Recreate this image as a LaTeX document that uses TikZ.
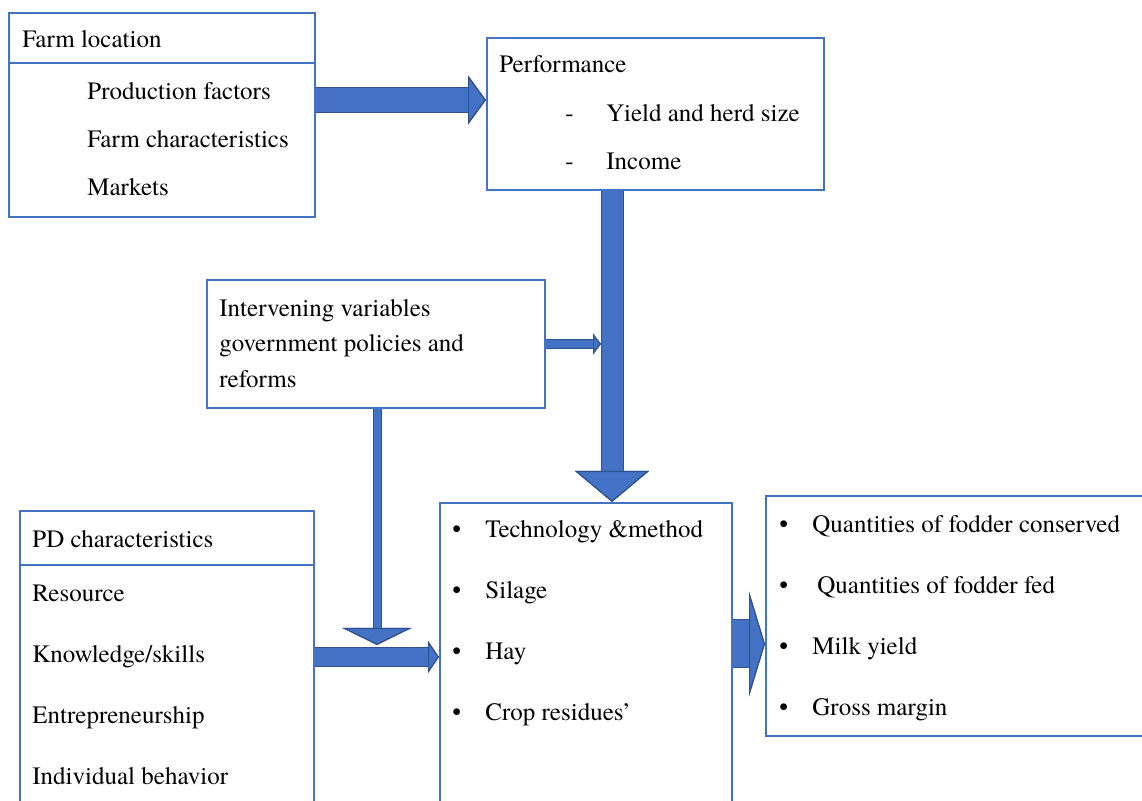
\documentclass[tikz,border=0pt]{standalone}
\usepackage{fontspec}
\setmainfont{texgyretermes}[Extension=.otf, UprightFont=*-regular, BoldFont=*-bold, ItalicFont=*-italic, BoldItalicFont=*-bolditalic]
\usetikzlibrary{arrows.meta}
\definecolor{BoxBlue}{HTML}{4472C4}
\definecolor{ArrowBlue}{HTML}{4472C4}
\definecolor{ArrowDark}{HTML}{2F528F}

\begin{document}
\begin{tikzpicture}[x=0.5pt,y=-0.5pt,
  box/.style={draw=BoxBlue, line width=1pt, anchor=north west, inner sep=0pt},
  lbl/.style={anchor=base west, inner sep=0pt, font=\fontsize{12.5}{15}\selectfont},
  flow/.style n args={4}{
    draw=ArrowBlue, line width=#1,
    preaction={draw=ArrowDark, line width=#2},
    -{Triangle[width=#3, length=#4, color=ArrowDark, fill=ArrowBlue, line width=0.6pt]}
  }]
  \useasboundingbox (0,0) rectangle (1142,801);
  \clip (0,0) rectangle (1142,801);

  % boxes
  \node[box, minimum width=153pt, minimum height=25pt] (farmhead) at (8,12) {};
  \node[box, minimum width=153pt, minimum height=77pt] (farmbody) at (8,62) {};
  \node[box, minimum width=168.5pt, minimum height=76pt] (perf) at (486,37) {};
  \node[box, minimum width=169pt, minimum height=64pt] (interv) at (206,279) {};
  \node[box, minimum width=147pt, minimum height=27pt] (pdhead) at (19,510) {};
  \node[box, minimum width=147pt, minimum height=130pt] (pdbody) at (19,564) {};
  \node[box, minimum width=146pt, minimum height=160pt] (method) at (439,502) {};
  \node[box, minimum width=200pt, minimum height=120pt] (outcome) at (765,495) {};

  % farm location
  \node[lbl] (farmtitle) at (22,48) {Farm location};
  \foreach \txt [count=\i] in {Production factors, Farm characteristics, Markets}
    \node[lbl] (farmitem\i) at (87,52+48*\i) {\txt};

  % performance
  \node[lbl] (perftitle) at (499,73) {Performance};
  \foreach \txt [count=\i] in {Yield and herd size, Income}
    \node[lbl] (perfitem\i) at (565,74+48*\i) {\makebox[20.5pt][l]{-}\txt};

  % intervening variables
  \foreach \txt [count=\i] in {Intervening variables, government policies and, reforms}
    \node[lbl] (intervline\i) at (219,281+35.5*\i) {\txt};

  % PD characteristics
  \node[lbl] (pdtitle) at (32,548) {PD characteristics};
  \foreach \txt [count=\i] in {Resource, Knowledge/skills, Entrepreneurship, Individual behavior}
    \node[lbl] (pditem\i) at (32,541+61*\i) {\txt};

  % technology and method
  \foreach \txt [count=\i] in {Technology \&method, Silage, Hay, Crop residues’}
    \node[lbl] (methoditem\i) at (452,477+61*\i) {\makebox[16.5pt][l]{\textbullet}\txt};

  % outcomes
  \foreach \txt [count=\i] in {Quantities of fodder conserved, {\hspace{2.5pt}Quantities of fodder fed}, Milk yield, Gross margin}
    \node[lbl] (outitem\i) at (779,472+61*\i) {\makebox[16.5pt][l]{\textbullet}\txt};

  % arrows
  \coordinate (spine) at (612,0);
  \coordinate (spineedge) at (601,0);
  \coordinate (toprow) at (0,100);
  \coordinate (pdrow) at (0,657);
  \coordinate (outrow) at (0,644);
  \coordinate (drop) at (377,645);

  \draw[flow={12pt}{13pt}{24.5pt}{9pt}] (farmbody.east |- toprow) -- (perf.west |- toprow);
  \draw[flow={10.5pt}{11.5pt}{37pt}{15.5pt}] (spine |- perf.south) -- (spine |- method.north);
  \draw[flow={4pt}{5pt}{10.5pt}{4pt}] (interv.east) -- (spineedge |- interv.east);
  \draw[flow={3.5pt}{4.5pt}{34.5pt}{8.5pt}] (interv.south -| drop) -- (drop);
  \draw[flow={9pt}{10pt}{16pt}{5.5pt}] (pdbody.east |- pdrow) -- (method.west |- pdrow);
  \draw[flow={23.5pt}{24.5pt}{52.5pt}{8pt}] (method.east |- outrow) -- (outcome.west |- outrow);
\end{tikzpicture}
\end{document}
